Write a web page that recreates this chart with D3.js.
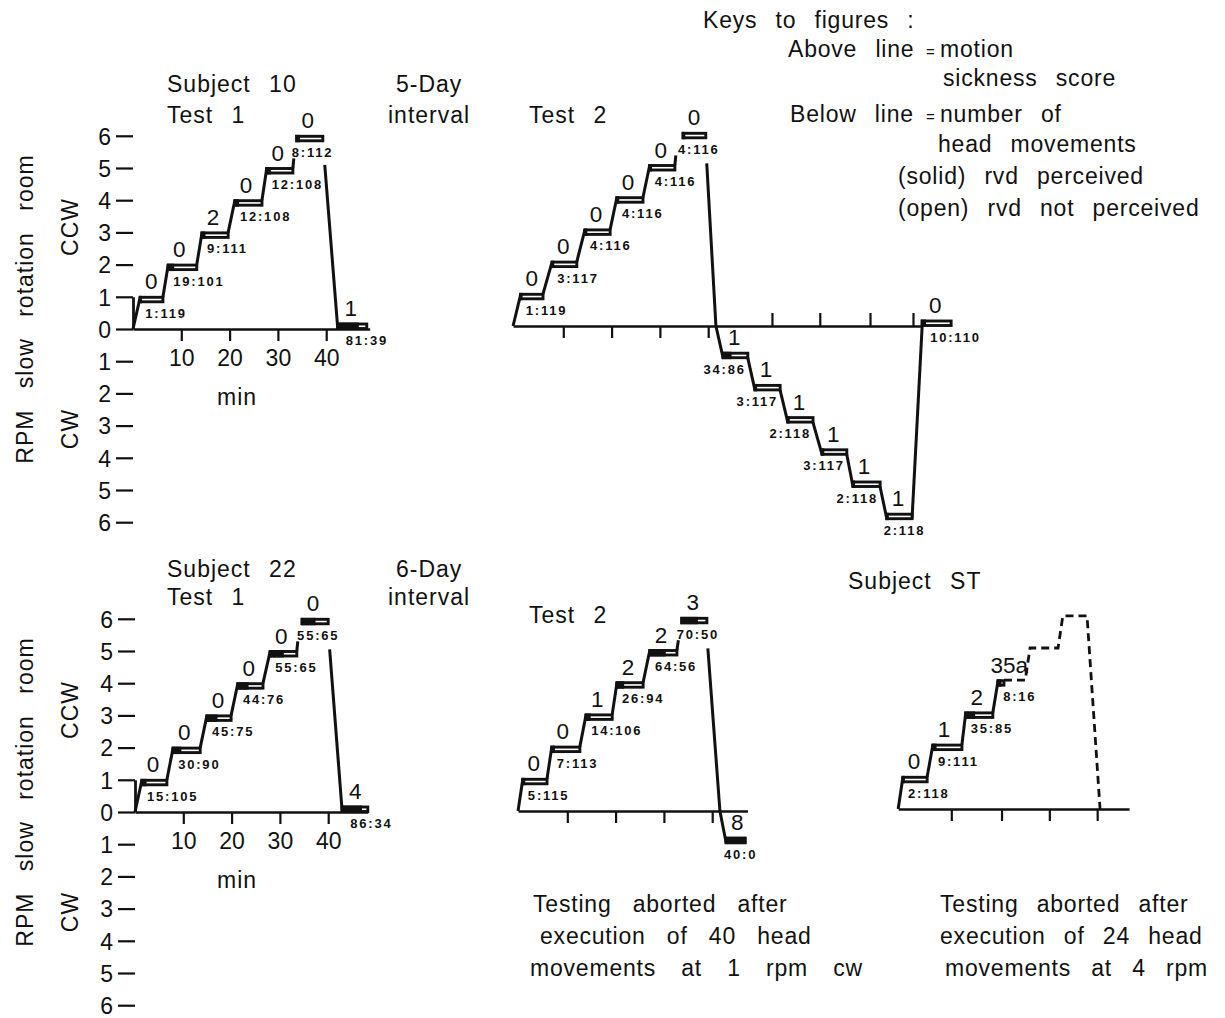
<!DOCTYPE html>
<html>
<head>
<meta charset="utf-8">
<script src="https://cdn.jsdelivr.net/npm/d3@7.9.0/dist/d3.min.js"></script>
<style>
  body { margin: 0; background: #fff; }
  svg text { font-family: "Liberation Sans", Arial, sans-serif; fill: #111; }
</style>
</head>
<body>
<svg id="fig" width="1225" height="1018"></svg>
<script>
// step rows: [rpm (ccw +, cw -), start min, end min, sickness score, rvd perceived, rvd not perceived]
const s10t1Steps = [
  [1, 1.5, 6.2, 0, 1, 119], [2, 7.3, 13.2, 0, 19, 101], [3, 14.3, 19.7, 2, 9, 111],
  [4, 21.1, 26.7, 0, 12, 108], [5, 27.7, 33.1, 0, 12, 108], [6, 33.9, 39.3, 0, 8, 112],
  [0, 42.4, 48.4, 1, 81, 39]
];
const s10t1Trace = [
  [[0, 0], [1.5, 1]], [[6.2, 1], [7.3, 2]], [[13.2, 2], [14.3, 3]], [[19.7, 3], [21.1, 4]],
  [[26.7, 4], [27.7, 5]], [[33.1, 5], [33.3, 5.3]], [[39.7, 5.1], [42.4, 0]]
];

const s10t2Steps = [
  [1, 1.2, 5.8, 0, 1, 119], [2, 7.7, 12.8, 0, 3, 117], [3, 14.5, 19.7, 0, 4, 116],
  [4, 21.1, 26.5, 0, 4, 116], [5, 27.9, 33.1, 0, 4, 116], [6, 34.8, 39.5, 0, 4, 116],
  [-1, 43.1, 48.2, 1, 34, 86], [-2, 49.7, 54.9, 1, 3, 117], [-3, 56.5, 61.7, 1, 2, 118],
  [-4, 63.6, 68.7, 1, 3, 117], [-5, 70.0, 75.6, 1, 2, 118], [-6, 77.0, 82.2, 1, 2, 118],
  [0, 84.3, 90.3, 0, 10, 110]
];
const s10t2Trace = [
  [[-0.4, 0], [1.2, 1]], [[5.8, 1], [7.7, 2]], [[12.8, 2], [14.5, 3]], [[19.7, 3], [21.1, 4]],
  [[26.5, 4], [27.9, 5]], [[33.1, 5], [33.3, 5.3]], [[39.7, 5.05], [41.6, 0], [43.1, -1]],
  [[48.2, -1], [49.7, -2]], [[54.9, -2], [56.5, -3]], [[61.7, -3], [63.6, -4]],
  [[68.7, -4], [70.0, -5]], [[75.6, -5], [77.0, -6]], [[82.2, -6], [84.3, 0]]
];

const s22t1Steps = [
  [1, 1.45, 6.6, 0, 15, 105], [2, 7.9, 13.5, 0, 30, 90], [3, 14.9, 19.9, 0, 45, 75],
  [4, 21.3, 26.5, 0, 44, 76], [5, 28.0, 33.5, 0, 55, 65], [6, 34.6, 40.0, 0, 55, 65],
  [0, 42.9, 48.2, 4, 86, 34]
];
const s22t1Trace = [
  [[0, 0], [1.45, 1]], [[6.6, 1], [7.9, 2]], [[13.5, 2], [14.9, 3]], [[19.9, 3], [21.3, 4]],
  [[26.5, 4], [28.0, 5]], [[33.5, 5], [33.7, 5.3]], [[40.3, 5.05], [42.9, 0]]
];

const s22t2Steps = [
  [1, 0.8, 5.8, 0, 5, 115], [2, 6.8, 12.6, 0, 7, 113], [3, 13.9, 19.3, 1, 14, 106],
  [4, 20.3, 25.7, 2, 26, 94], [5, 27.1, 32.7, 2, 64, 56], [6, 33.7, 38.9, 3, 70, 50],
  [-1, 42.9, 46.8, 8, 40, 0]
];
const s22t2Trace = [
  [[-0.2, 0], [0.8, 1]], [[5.8, 1], [6.8, 2]], [[12.6, 2], [13.9, 3]], [[19.3, 3], [20.3, 4]],
  [[25.7, 4], [27.1, 5]], [[32.7, 5], [33.0, 5.3]], [[39.1, 5.05], [41.6, 0], [42.9, -1]]
];

const sSTSteps = [
  [1, 0, 5.0, '0', 2, 118], [2, 6.2, 12.2, '1', 9, 111], [3, 13.0, 18.6, '2', 35, 85],
  [4, 19.7, 20.9, '35a', 8, 16]
];
const sSTTrace = [
  [[-1, 0], [0, 1]], [[5.0, 1], [6.2, 2]], [[12.2, 2], [13.0, 3]], [[18.6, 3], [19.7, 4]]
];
// planned (not executed) part of the profile
const sSTPlanned = [[20.9, 4], [25.3, 4], [26.3, 5], [32.1, 5], [33.1, 6], [38.1, 6], [40.8, 0]];

const rpmTicks = [-6, -5, -4, -3, -2, -1, 0, 1, 2, 3, 4, 5, 6];
const minTicks = [10, 20, 30, 40];
const s10t2UpperTicks = [53.2, 63.1, 73.5, 82.4];
const sSTMinTicks = [10, 20.4, 30.3, 40.2];

const keyLines = [
  'Keys to figures :', 'Above line', 'motion', 'sickness score', 'Below line',
  'number of', 'head movements', '(solid) rvd perceived', '(open) rvd not perceived'
];
const noteLeft = ['Testing aborted after', 'execution of 40 head', 'movements at 1 rpm cw'];
const noteRight = ['Testing aborted after', 'execution of 24 head', 'movements at 4 rpm'];

const svg = d3.select('#fig');
const PX_PER_MIN = 4.83;
const PX_PER_RPM = 32.2;
const BAR_H = 4.5;
const INK = '#111';

function makeScales(ox, oy) {
  const x = d3.scaleLinear().domain([0, 10]).range([ox, ox + 10 * PX_PER_MIN]);
  const y = d3.scaleLinear().domain([0, 1]).range([oy, oy - PX_PER_RPM]);
  return { x, y };
}

function text(g, str, x, y, size, opts = {}) {
  const t = g.append('text')
    .attr('x', x).attr('y', y)
    .attr('font-size', size)
    .attr('text-anchor', opts.anchor || 'start')
    .style('word-spacing', (opts.ws ?? 11) + 'px')
    .style('letter-spacing', (opts.ls ?? 0.8) + 'px')
    .text(str);
  if (opts.weight) t.attr('font-weight', opts.weight);
  if (opts.rotate) t.attr('transform', `rotate(-90 ${x} ${y})`);
  return t;
}

function drawPanel(cfg) {
  const { x, y } = makeScales(cfg.ox, cfg.oy);
  const g = svg.append('g');

  if (cfg.fullAxes) {
    const yAxis = d3.axisLeft(y).tickValues(rpmTicks).tickSize(17).tickSizeOuter(0).tickPadding(5)
      .tickFormat(d => Math.abs(d));
    const ya = g.append('g').attr('transform', `translate(${cfg.ox},0)`).call(yAxis);
    ya.select('.domain').attr('stroke-width', 2.8).attr('stroke', INK);
    ya.selectAll('.tick line').attr('stroke-width', 2.2).attr('stroke', INK);
    ya.selectAll('.tick text').attr('font-size', 23).attr('fill', INK).attr('dy', '0.36em')
      .attr('font-family', '"Liberation Sans", Arial, sans-serif');
  }

  // zero line / time axis
  const xb = d3.scaleLinear().domain(cfg.span).range([x(cfg.span[0]), x(cfg.span[1])]);
  const xAxis = d3.axisBottom(xb).tickValues(cfg.ticks).tickSize(12).tickSizeOuter(0).tickPadding(9)
    .tickFormat(cfg.fullAxes ? d3.format('d') : '');
  const xa = g.append('g').attr('transform', `translate(0,${cfg.oy})`).call(xAxis);
  xa.select('.domain').attr('stroke-width', 2.6).attr('stroke', INK);
  xa.selectAll('.tick line').attr('stroke-width', 2.2).attr('stroke', INK);
  xa.selectAll('.tick text').attr('font-size', 23).attr('fill', INK)
    .attr('font-family', '"Liberation Sans", Arial, sans-serif');

  if (cfg.upperTicks) {
    const xt = d3.axisTop(xb).tickValues(cfg.upperTicks).tickSize(13).tickSizeOuter(0).tickFormat('');
    const ta = g.append('g').attr('transform', `translate(0,${cfg.oy})`).call(xt);
    ta.select('.domain').remove();
    ta.selectAll('.tick line').attr('stroke-width', 2.2).attr('stroke', INK);
  }

  // rpm profile
  const line = d3.line().x(d => x(d[0])).y(d => y(d[1]));
  g.selectAll('path.trace').data(cfg.trace).join('path')
    .attr('class', 'trace')
    .attr('d', line)
    .attr('fill', 'none').attr('stroke', INK).attr('stroke-width', 3)
    .attr('stroke-linejoin', 'round');

  if (cfg.planned) {
    g.append('path').attr('d', line(cfg.planned))
      .attr('fill', 'none').attr('stroke', INK).attr('stroke-width', 2.8)
      .attr('stroke-dasharray', '8 5');
  }

  // dwell bars: black share = rvd perceived
  const steps = cfg.steps;
  steps.forEach((s, i) => {
    const [rpm, t0, t1, score, seen, unseen] = s;
    const x0 = x(t0), x1 = x(t1), w = x1 - x0;
    const top = rpm > 0 ? y(rpm) + 0.5 : y(rpm) - BAR_H - 0.5;
    const bottom = top + BAR_H;
    const frac = seen / (seen + unseen);
    g.append('rect').attr('x', x0).attr('y', top).attr('width', w).attr('height', BAR_H)
      .attr('fill', '#fff').attr('stroke', INK).attr('stroke-width', 2.9);
    g.append('rect').attr('x', x0).attr('y', top).attr('width', w * frac).attr('height', BAR_H)
      .attr('fill', INK).attr('stroke', INK).attr('stroke-width', 2.9);

    const next = steps[i + 1];
    let sx = x0 + 11;
    let cx = x0 + 5, anchor = 'start';
    if (rpm > 0 && next && next[0] < rpm) cx = x0 - 5;
    if (rpm === 0) { sx = x0 + 13; cx = x0 + 8; }
    if (rpm < 0) {
      if (next && next[0] < rpm) { cx = x1 - 2; anchor = 'end'; }
      else { cx = (x0 + x1) / 2 + 5; anchor = 'middle'; }
    }
    text(g, String(score), sx, top - 8, 22.5, { anchor: 'middle', ls: 0 });
    text(g, `${seen}:${unseen}`, cx, bottom + 16, 13, { anchor, weight: 'bold', ls: 1.8 });
  });
}

drawPanel({ ox: 133, oy: 329, fullAxes: true, span: [0, 49], ticks: minTicks,
  steps: s10t1Steps, trace: s10t1Trace });
drawPanel({ ox: 515, oy: 326, span: [-0.4, 84.3], ticks: minTicks, upperTicks: s10t2UpperTicks,
  steps: s10t2Steps, trace: s10t2Trace });
drawPanel({ ox: 135, oy: 812, fullAxes: true, span: [0, 48.2], ticks: minTicks,
  steps: s22t1Steps, trace: s22t1Trace });
drawPanel({ ox: 519, oy: 811, span: [-0.2, 47.3], ticks: minTicks,
  steps: s22t2Steps, trace: s22t2Trace });
drawPanel({ ox: 903, oy: 809, span: [-1, 46.8], ticks: sSTMinTicks,
  steps: sSTSteps, trace: sSTTrace, planned: sSTPlanned });

// labels
const L = svg.append('g');
[[329, 'Subject 10', '5-Day', 92, 123], [812, 'Subject 22', '6-Day', 577, 605]].forEach(([oy, subj, gap, y1, y2]) => {
  text(L, 'RPM slow rotation room', 33, oy - 20, 23, { rotate: true, anchor: 'middle', ws: 14, ls: 1 });
  text(L, 'CCW', 78, oy - 102, 23, { rotate: true, anchor: 'middle', ls: 1 });
  text(L, 'CW', 78, oy + 100, 23, { rotate: true, anchor: 'middle', ls: 1 });
  text(L, 'min', 237, oy + 76, 23, { anchor: 'middle', ls: 1 });
  text(L, subj, 167, y1, 23, { ls: 1 });
  text(L, 'Test 1', 167, y2, 23, { ls: 1 });
  text(L, gap, 396, y1, 23, { ls: 1 });
  text(L, 'interval', 388, y2, 23, { ls: 1 });
});
text(L, 'Test 2', 529, 123, 23, { ls: 1 });
text(L, 'Test 2', 529, 623, 23, { ls: 1 });
text(L, 'Subject ST', 848, 589, 23, { ls: 1 });

// key
const K = svg.append('g');
text(K, keyLines[0], 703, 28, 23);
text(K, keyLines[1], 788, 57, 23);
text(K, '=', 926, 57, 15, { ls: 0 });
text(K, keyLines[2], 940, 57, 23);
text(K, keyLines[3], 943, 86, 23);
text(K, keyLines[4], 790, 122, 23);
text(K, '=', 926, 122, 15, { ls: 0 });
text(K, keyLines[5], 940, 122, 23);
text(K, keyLines[6], 938, 152, 23);
text(K, keyLines[7], 898, 184, 23);
text(K, keyLines[8], 898, 216, 23);

// notes under the aborted tests
[[noteLeft, [533, 540, 530], [14, 14, 18]], [noteRight, [940, 940, 945], [11, 11, 13]]].forEach(([lines, xs, ws]) => {
  lines.forEach((s, i) => text(L, s, xs[i], 912 + i * 32, 23, { ws: ws[i] }));
});
</script>
</body>
</html>
